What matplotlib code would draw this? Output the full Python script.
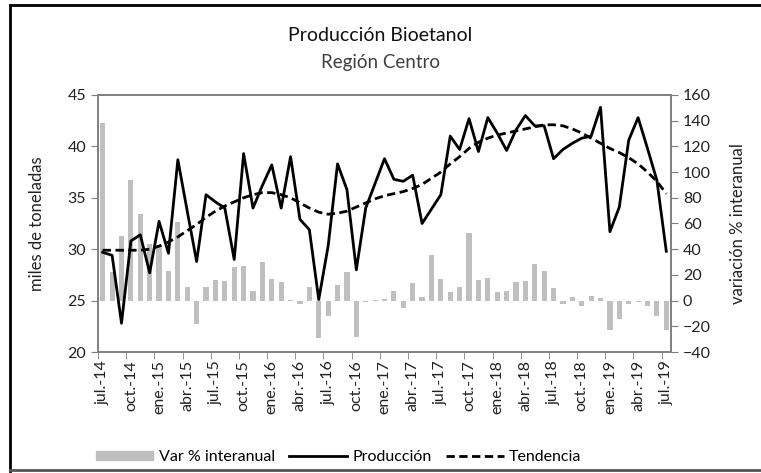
import numpy as np
import matplotlib
matplotlib.use('Agg')
from matplotlib import pyplot as plt
from matplotlib.lines import Line2D
from matplotlib.patches import Patch

plt.rcParams['font.family'] = ['Lato', 'DejaVu Sans']

# meses jul-14 .. jul-19
meses = ['ene.', 'feb.', 'mar.', 'abr.', 'may.', 'jun.',
         'jul.', 'ago.', 'sep.', 'oct.', 'nov.', 'dic.']
etiquetas = [f'{meses[(6 + i) % 12]}-{14 + (6 + i) // 12}' for i in range(61)]

# miles de toneladas
produccion = [29.7, 29.4, 22.8, 30.8, 31.4, 27.7, 32.7, 29.6, 38.7, 33.7,
              28.8, 35.3, 34.6, 34.0, 29.0, 39.3, 34.0, 36.2, 38.2, 34.0,
              39.0, 32.9, 31.9, 25.1, 30.3, 38.3, 35.8, 28.0, 34.0, 36.4,
              38.8, 36.8, 36.6, 37.2, 32.5, 33.9, 35.3, 41.0, 39.7, 42.7,
              39.5, 42.8, 41.3, 39.6, 41.6, 43.0, 42.0, 42.0, 38.8, 39.7,
              40.3, 40.8, 41.0, 43.8, 31.7, 34.1, 40.6, 42.8, 39.8, 36.7,
              29.8]

tendencia = [29.9, 29.9, 29.9, 29.9, 29.9, 30.0, 30.3, 30.7, 31.2, 31.8,
             32.4, 33.1, 33.7, 34.2, 34.6, 35.0, 35.3, 35.5, 35.5, 35.3,
             35.0, 34.5, 34.0, 33.6, 33.4, 33.5, 33.7, 34.1, 34.5, 34.9,
             35.2, 35.4, 35.6, 35.9, 36.3, 36.9, 37.5, 38.3, 39.0, 39.8,
             40.4, 40.8, 41.1, 41.3, 41.5, 41.7, 41.9, 42.1, 42.1, 42.0,
             41.7, 41.3, 40.8, 40.3, 39.8, 39.4, 38.9, 38.3, 37.5, 36.6,
             35.4]

# variacion % interanual
var_interanual = [138, 22, 50, 94, 67, 44, 43, 23, 61, 10.5,
                  -18, 10.5, 16.3, 15.4, 26.5, 27.3, 7.5, 30.4, 16.6, 14.4,
                  0.5, -3, 10.6, -29, -12, 12.4, 22.4, -28, -1, 0.5,
                  1, 7.5, -6, 13.5, 2.6, 35.3, 16.6, 6.7, 10.6, 52.4,
                  16.4, 17.4, 6.7, 7.5, 14.3, 15.6, 28.5, 23.3, 9.6, -3,
                  2.5, -4, 3.2, 1.8, -23, -14.3, -3, -1, -4.2, -12,
                  -23]

x = np.arange(len(produccion))
gris = '#bfbfbf'
eje = '#7f7f7f'
texto = '#222222'

fig = plt.figure(figsize=(7.61, 4.73), dpi=100)
ax = fig.add_axes([0.1288, 0.2558, 0.7529, 0.5434])
ax2 = ax.twinx()

ax2.bar(x, var_interanual, width=0.55, color=gris, zorder=1)
ax.plot(x, produccion, color='black', lw=2.0, zorder=3)
ax.plot(x, tendencia, color='black', lw=2.0, ls=(0, (3, 1.6)), zorder=3)

# lineas por encima de las barras
ax.set_zorder(ax2.get_zorder() + 1)
ax.patch.set_visible(False)

ax.set_xlim(-0.5, 60.5)
ax.set_ylim(20, 45)
ax.set_yticks(range(20, 46, 5))
ax2.set_ylim(-40, 160)
ax2.set_yticks(range(-40, 161, 20))

ax.set_xticks(x[::3])
ax.set_xticklabels(etiquetas[::3], rotation=90)
ax.set_xticks(np.arange(-0.5, 61, 3), minor=True)
ax.tick_params(axis='x', which='major', length=0, pad=6)
ax.tick_params(axis='x', which='minor', length=5, color=eje, direction='out')

for a in (ax, ax2):
    for s in a.spines.values():
        s.set_color(eje)
        s.set_linewidth(1.2)
    a.tick_params(axis='y', length=5, color=eje, labelsize=11.5, labelcolor=texto)
    a.tick_params(axis='x', labelsize=11.5, labelcolor=texto)

ax.set_ylabel('miles de toneladas', fontsize=12, color=texto, labelpad=16)
ax2.set_ylabel('variación % interanual', fontsize=12, color=texto, labelpad=14)

fig.text(0.5, 0.925, 'Producción Bioetanol', ha='center', va='center',
         fontsize=14, color='#111111')
fig.text(0.5, 0.868, 'Región Centro', ha='center', va='center',
         fontsize=13.5, color='#404040')

handles = [Patch(color=gris), Line2D([], [], color='black', lw=2),
           Line2D([], [], color='black', lw=2, ls=(0, (3, 1.6)))]
fig.legend(handles, ['Var % interanual', 'Producción', 'Tendencia'],
           loc='center', bbox_to_anchor=(0.445, 0.034), ncol=3, frameon=False,
           fontsize=11.5, handlelength=3.6, handleheight=0.45, columnspacing=0.9,
           handletextpad=0.35)

# marco
fig.add_artist(Line2D([0.013, 0.013], [0.005, 0.99], color='black', lw=2, transform=fig.transFigure))
fig.add_artist(Line2D([0.013, 1.0], [0.99, 0.99], color='black', lw=2, transform=fig.transFigure))
fig.add_artist(Line2D([0.013, 1.0], [0.006, 0.006], color='#555555', lw=2, transform=fig.transFigure))

fig.savefig('out.png', dpi=100)
